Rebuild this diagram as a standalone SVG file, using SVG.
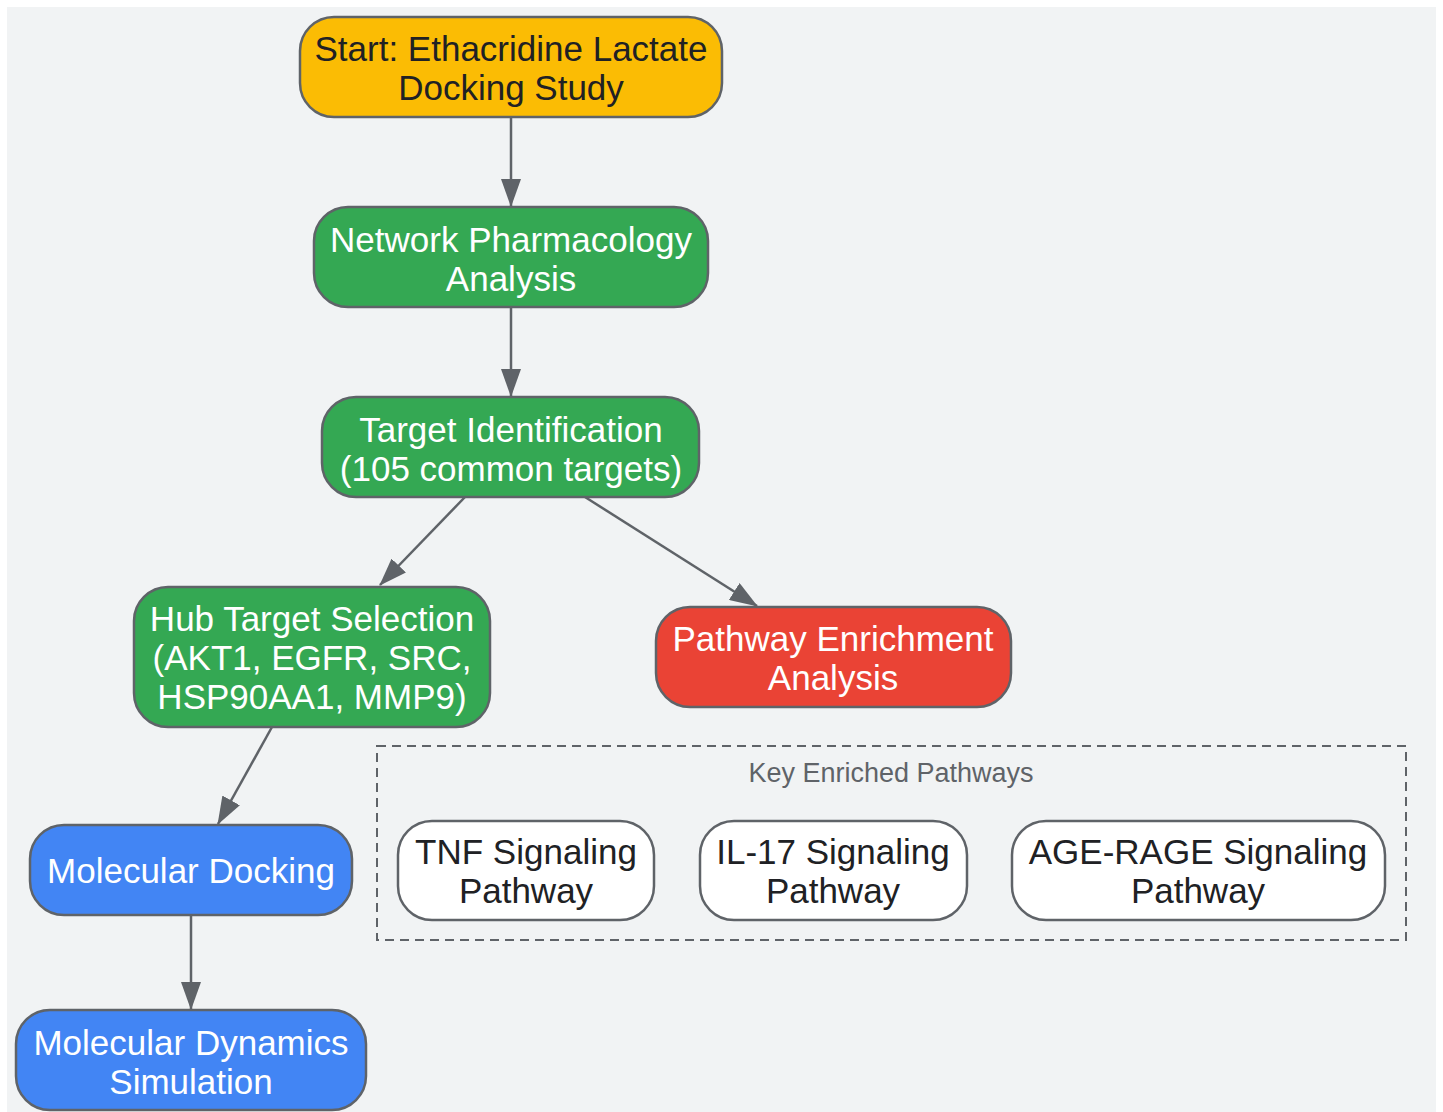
<svg xmlns="http://www.w3.org/2000/svg" width="1443" height="1112" viewBox="0 0 1443 1112">
<defs>
<style>
.n{stroke:#5f6368;stroke-width:2.5}
.t{font-family:"Liberation Sans",Arial,sans-serif;font-size:35px;text-anchor:middle;fill:#ffffff}
.d{fill:#202124}
.e{stroke:#5f6368;stroke-width:2.5;fill:none;marker-end:url(#ah)}
</style>
<marker id="ah" viewBox="0 0 28 20" refX="27" refY="10" markerWidth="28" markerHeight="20" markerUnits="userSpaceOnUse" orient="auto">
<path d="M0,0 L28,10 L0,20 Z" fill="#5f6368"/>
</marker>
</defs>
<rect x="0" y="0" width="1443" height="1112" fill="#ffffff"/>
<rect x="7" y="7" width="1429" height="1105" fill="#f1f3f4"/>

<g id="cluster">
<rect x="377" y="746" width="1029" height="194" fill="none" stroke="#5f6368" stroke-width="2" stroke-dasharray="9,6"/>
<text x="891" y="782" style="font-family:'Liberation Sans',Arial,sans-serif;font-size:27px;text-anchor:middle;fill:#5f6368">Key Enriched Pathways</text>
</g>

<g id="connectors">
<line class="e" x1="511" y1="117" x2="511" y2="206"/>
<line class="e" x1="511" y1="307" x2="511" y2="396"/>
<line class="e" x1="465" y1="497" x2="380" y2="585"/>
<line class="e" x1="585" y1="497" x2="757" y2="606"/>
<line class="e" x1="272" y1="727" x2="218" y2="824"/>
<line class="e" x1="191" y1="915" x2="191" y2="1009"/>
</g>

<g id="start">
<rect class="n" x="300" y="17" width="422" height="100" rx="34" fill="#fbbc04"/>
<text class="t d" x="511" y="61">Start: Ethacridine Lactate</text>
<text class="t d" x="511" y="100">Docking Study</text>
</g>
<g id="network">
<rect class="n" x="314" y="207" width="394" height="100" rx="34" fill="#34a853"/>
<text class="t" x="511" y="252">Network Pharmacology</text>
<text class="t" x="511" y="291">Analysis</text>
</g>
<g id="target">
<rect class="n" x="322" y="397" width="377" height="100" rx="34" fill="#34a853"/>
<text class="t" x="511" y="442">Target Identification</text>
<text class="t" x="511" y="481">(105 common targets)</text>
</g>
<g id="hub">
<rect class="n" x="134" y="587" width="356" height="140" rx="34" fill="#34a853"/>
<text class="t" x="312" y="631">Hub Target Selection</text>
<text class="t" x="312" y="670">(AKT1, EGFR, SRC,</text>
<text class="t" x="312" y="709">HSP90AA1, MMP9)</text>
</g>
<g id="pathway">
<rect class="n" x="656" y="607" width="355" height="100" rx="34" fill="#ea4335"/>
<text class="t" x="833" y="651">Pathway Enrichment</text>
<text class="t" x="833" y="690">Analysis</text>
</g>
<g id="docking">
<rect class="n" x="30" y="825" width="322" height="90" rx="34" fill="#4285f4"/>
<text class="t" x="191" y="883">Molecular Docking</text>
</g>
<g id="dynamics">
<rect class="n" x="16" y="1010" width="350" height="100" rx="34" fill="#4285f4"/>
<text class="t" x="191" y="1055">Molecular Dynamics</text>
<text class="t" x="191" y="1094">Simulation</text>
</g>
<g id="tnf">
<rect class="n" x="398" y="821" width="256" height="99" rx="34" fill="#ffffff"/>
<text class="t d" x="526" y="864">TNF Signaling</text>
<text class="t d" x="526" y="903">Pathway</text>
</g>
<g id="il17">
<rect class="n" x="700" y="821" width="267" height="99" rx="34" fill="#ffffff"/>
<text class="t d" x="833" y="864">IL-17 Signaling</text>
<text class="t d" x="833" y="903">Pathway</text>
</g>
<g id="agerage">
<rect class="n" x="1012" y="821" width="373" height="99" rx="34" fill="#ffffff"/>
<text class="t d" x="1198" y="864">AGE-RAGE Signaling</text>
<text class="t d" x="1198" y="903">Pathway</text>
</g>
</svg>
